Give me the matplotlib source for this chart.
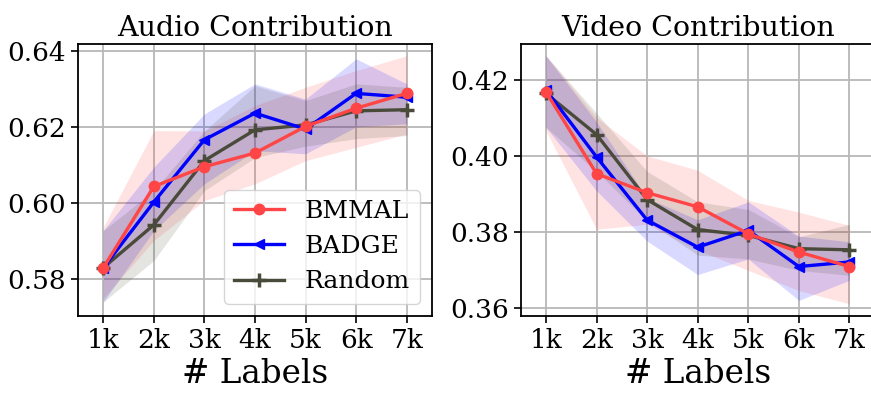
import matplotlib
matplotlib.use("Agg")
import matplotlib.pyplot as plt
import numpy as np

x_labels = ["1k", "2k", "3k", "4k", "5k", "6k", "7k"]
x = np.arange(1, 8)

# Audio contribution
audio_bmmal = [0.583, 0.6044, 0.6096, 0.6132, 0.6202, 0.6250, 0.6289]
audio_bmmal_lo = [0.575, 0.5902, 0.6007, 0.6051, 0.6112, 0.6147, 0.6182]
audio_bmmal_hi = [0.5937, 0.6191, 0.6190, 0.6257, 0.6305, 0.6349, 0.6388]
audio_badge = [0.583, 0.6003, 0.6167, 0.6237, 0.6195, 0.6289, 0.6279]
audio_badge_lo = [0.5740, 0.5928, 0.6051, 0.6138, 0.6130, 0.6201, 0.6209]
audio_badge_hi = [0.5928, 0.6095, 0.6235, 0.6314, 0.6274, 0.6380, 0.6314]
audio_random = [0.583, 0.5943, 0.6112, 0.6193, 0.6206, 0.6243, 0.6246]
audio_random_lo = [0.5740, 0.5849, 0.6033, 0.6120, 0.6150, 0.6170, 0.6178]
audio_random_hi = [0.5928, 0.6033, 0.6190, 0.6309, 0.6270, 0.6314, 0.6305]

# Video contribution
video_bmmal = [0.4169, 0.3954, 0.3904, 0.3867, 0.3796, 0.3748, 0.3710]
video_bmmal_lo = [0.4067, 0.3808, 0.3821, 0.3753, 0.3700, 0.3647, 0.3612]
video_bmmal_hi = [0.4264, 0.4102, 0.4001, 0.3963, 0.3884, 0.3853, 0.3818]
video_badge = [0.4174, 0.3998, 0.3832, 0.3761, 0.3805, 0.3710, 0.3722]
video_badge_lo = [0.4076, 0.3909, 0.3777, 0.3689, 0.3730, 0.3621, 0.3674]
video_badge_hi = [0.4264, 0.4090, 0.3890, 0.3833, 0.3880, 0.3790, 0.3775]
video_random = [0.4165, 0.4057, 0.3886, 0.3807, 0.3792, 0.3757, 0.3754]
video_random_lo = [0.4076, 0.3960, 0.3830, 0.3740, 0.3730, 0.3700, 0.3687]
video_random_hi = [0.4264, 0.4113, 0.3960, 0.3880, 0.3860, 0.3788, 0.3821]

plt.rcParams['font.family'] = ['DejaVu Serif']

C_BM = '#ff4545'
C_BA = '#0000ff'
C_RA = '#4a4a3a'

fig = plt.figure(figsize=(8.71, 3.93), dpi=100)
axL = fig.add_axes([78/871, 77/393, 354/871, 272/393])
axR = fig.add_axes([520.7/871, 77/393, 354/871, 272/393])

def draw(ax, bm, bml, bmh, ba, bal, bah, ra, ral, rah, title, ylim, yticks, legend):
    ax.fill_between(x, bml, bmh, color=C_BM, alpha=0.15, lw=0)
    ax.fill_between(x, bal, bah, color=C_BA, alpha=0.15, lw=0)
    ax.fill_between(x, ral, rah, color=C_RA, alpha=0.15, lw=0)
    ax.plot(x, ra, color=C_RA, marker='+', ms=10, mew=2.5, lw=2.4, label='Random', zorder=3)
    ax.plot(x, ba, color=C_BA, marker='<', ms=7.5, lw=2.4, label='BADGE', zorder=4)
    ax.plot(x, bm, color=C_BM, marker='o', ms=7.5, lw=2.4, label='BMMAL', zorder=5)
    ax.set_xlim(0.5, 7.5)
    ax.set_ylim(*ylim)
    ax.set_xticks(x)
    ax.set_xticklabels(x_labels)
    ax.set_yticks(yticks)
    ax.set_yticklabels([f"{v:.2f}" for v in yticks])
    ax.tick_params(labelsize=19, length=5, width=1.2)
    ax.grid(True, color='#b8b8b8', lw=1.3)
    ax.set_axisbelow(True)
    for s in ax.spines.values():
        s.set_linewidth(1.3)
    ax.set_title(title, fontsize=20.5)
    ax.set_xlabel('# Labels', fontsize=23.5)
    if legend:
        h, l = ax.get_legend_handles_labels()
        order = [2, 1, 0]
        ax.legend([h[i] for i in order], [l[i] for i in order], loc='lower right', fontsize=18)

draw(axL, audio_bmmal, audio_bmmal_lo, audio_bmmal_hi, audio_badge, audio_badge_lo, audio_badge_hi,
     audio_random, audio_random_lo, audio_random_hi, 'Audio Contribution', (0.5703, 0.6419),
     [0.58, 0.60, 0.62, 0.64], True)
draw(axR, video_bmmal, video_bmmal_lo, video_bmmal_hi, video_badge, video_badge_lo, video_badge_hi,
     video_random, video_random_lo, video_random_hi, 'Video Contribution', (0.358, 0.4295),
     [0.36, 0.38, 0.40, 0.42], False)

fig.savefig('out.png', dpi=100)
